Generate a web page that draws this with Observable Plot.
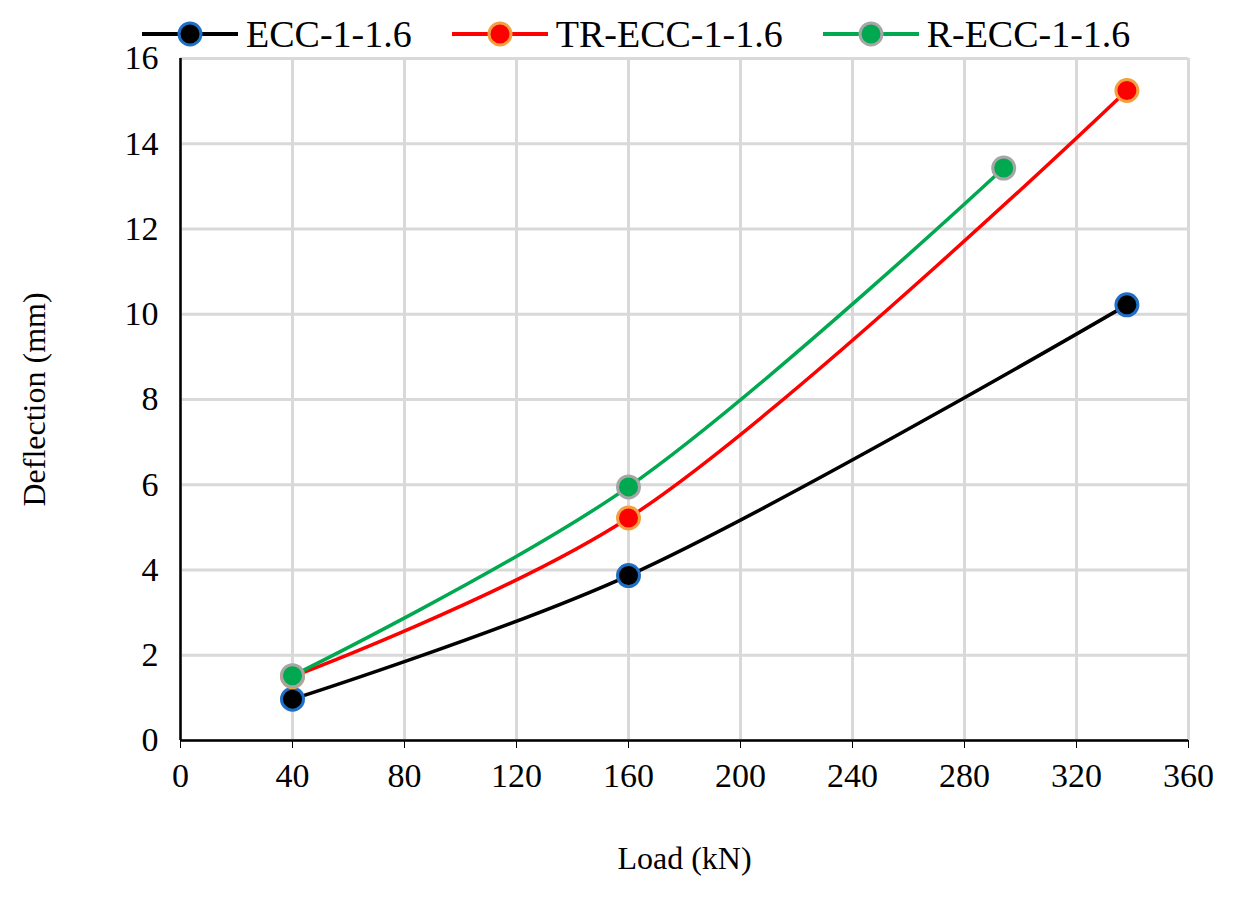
<!DOCTYPE html>
<html><head>
<script src="https://cdn.jsdelivr.net/npm/d3@7"></script>
<script src="https://cdn.jsdelivr.net/npm/@observablehq/plot@0.6"></script>
<style>
body{margin:0;background:#fff;font-family:"Liberation Serif",serif}
#wrap{position:relative;width:1248px;height:899px}
#legend{position:absolute;top:12px;left:140px;display:flex;gap:38px;font-size:38px;align-items:center}
#legend span{display:flex;align-items:center;gap:6px}
g[aria-label$="tick label"]{font-size:34px !important}
g[aria-label="axis label"]{font-size:42px !important}
</style></head><body>
<div id="wrap"><div id="legend"></div><div id="chart"></div></div>
<script>
const seriesNames = ["ECC-1-1.6","TR-ECC-1-1.6","R-ECC-1-1.6"];
const lineColors = ["#000000","#ff0000","#00a84f"];
const markerStrokes = ["#1f6fc6","#f4a040","#a6a6a6"];
const eccLoad = [40,160,338], eccDefl = [0.97,3.87,10.22];
const trLoad = [40,160,338], trDefl = [1.5,5.22,15.25];
const rLoad = [40,160,294], rDefl = [1.52,5.95,13.43];
const xTicks = [0,40,80,120,160,200,240,280,320,360];
const yTicks = [0,2,4,6,8,10,12,14,16];

const loads=[eccLoad,trLoad,rLoad], defls=[eccDefl,trDefl,rDefl];
const data = seriesNames.flatMap((s,i)=>loads[i].map((x,j)=>({s,x,y:defls[i][j]})));
const color = {domain:seriesNames, range:lineColors};

const plot = Plot.plot({
  width:1248,height:899,marginTop:58,marginBottom:159,marginLeft:180,marginRight:60,
  style:{fontFamily:"Liberation Serif",fontSize:"32px",color:"#000",background:"#fff"},
  x:{domain:[0,360],ticks:xTicks,label:null},
  y:{domain:[0,16],ticks:yTicks,label:null},
  color,
  marks:[
    Plot.gridX(xTicks,{stroke:"#d9d9d9",strokeOpacity:1,strokeWidth:3}),
    Plot.gridY(yTicks,{stroke:"#d9d9d9",strokeOpacity:1,strokeWidth:3}),
    Plot.axisX({ticks:xTicks,tickSize:8,tickPadding:14,label:null}),
    Plot.axisY({ticks:yTicks,tickSize:0,tickPadding:22,label:null}),
    Plot.ruleX([0],{stroke:"#000",strokeWidth:2.5}),
    Plot.ruleY([0],{stroke:"#000",strokeWidth:2.5}),
    Plot.line(data,{x:"x",y:"y",z:"s",stroke:"s",strokeWidth:3.5,curve:"catmull-rom"}),
    Plot.dot(data,{x:"x",y:"y",r:11,fill:"s",stroke:d=>markerStrokes[seriesNames.indexOf(d.s)],strokeWidth:3}),
    Plot.text(["Load (kN)"],{x:[180],y:[-2.77],ariaLabel:"axis label",text:d=>d,lineAnchor:"middle"}),
    Plot.text(["Deflection (mm)"],{x:[-52],y:[8],rotate:-90,ariaLabel:"axis label",text:d=>d,lineAnchor:"middle"})
  ]
});
document.getElementById("chart").append(plot);

const lg=document.getElementById("legend");
seriesNames.forEach((n,i)=>{
  const sp=document.createElement("span");
  sp.innerHTML=`<svg width="100" height="30"><line x1="2" x2="98" y1="15" y2="15" stroke="${lineColors[i]}" stroke-width="4"/><circle cx="50" cy="15" r="11" fill="${lineColors[i]}" stroke="${markerStrokes[i]}" stroke-width="3"/></svg>${n}`;
  lg.append(sp);
});
</script></body></html>
